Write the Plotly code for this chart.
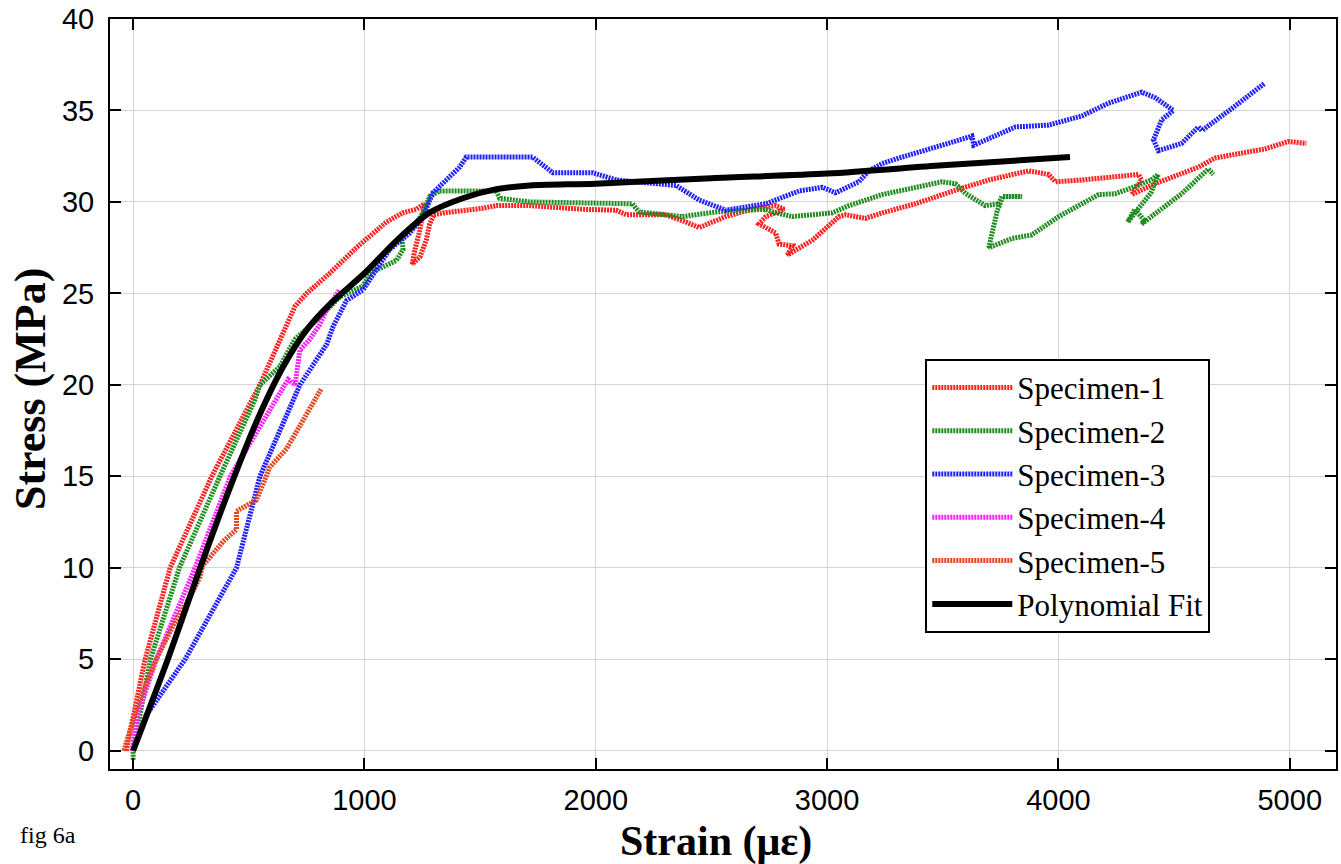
import plotly.graph_objects as go

# ---- data (strain in micro-strain, stress in MPa) ----
s1_x = [-30, 52, 160, 340, 548, 700, 750, 850, 965, 1095, 1165, 1224, 1260, 1240, 1215, 1207, 1240, 1267,
        1282, 1300, 1340, 1426, 1511, 1570, 1713, 1943, 2088, 2131, 2303, 2390, 2447, 2562, 2677, 2778,
        2814, 2735, 2706, 2778, 2792, 2850, 2828, 2936, 3051, 3080, 3166, 3238, 3382, 3569, 3699, 3871,
        3958, 3987, 4101, 4346, 4360, 4317, 4418, 4605, 4677, 4893, 4993, 5072]
s1_y = [0, 5, 10, 15, 20, 24.3, 25, 26.1, 27.5, 28.9, 29.4, 29.6, 29.9, 28.5, 27.2, 26.6, 27.0, 27.9,
        28.8, 29.3, 29.4, 29.5, 29.65, 29.8, 29.8, 29.6, 29.55, 29.3, 29.3, 28.9, 28.6, 29.2, 29.6, 29.8,
        29.6, 29.2, 28.8, 28.3, 27.7, 27.6, 27.1, 27.9, 29.2, 29.3, 29.1, 29.4, 29.9, 30.7, 31.2, 31.7,
        31.5, 31.1, 31.2, 31.5, 31.2, 30.4, 31.0, 31.9, 32.4, 32.9, 33.3, 33.2]

s2_x = [0, 0, 75, 200, 375, 527, 548, 634, 700, 807, 893, 994, 1023, 1095, 1138, 1167, 1160, 1210, 1253,
        1282, 1325, 1570, 1584, 1713, 2158, 2188, 2375, 2519, 2735, 2764, 2850, 3022, 3095, 3238, 3497,
        3554, 3600, 3684, 3742, 3756, 3843, 3760, 3735, 3715, 3699, 3799, 3885, 4001, 4174, 4245, 4303,
        4400, 4432, 4400, 4340, 4300, 4330, 4370, 4360, 4420, 4533, 4648, 4670]
s2_y = [-0.5, 0, 5, 10, 15, 19.2, 20, 21, 22.5, 23.7, 24.8, 25.4, 26.1, 26.5, 26.8, 27.4, 28.1, 28.6, 29.4,
        30.3, 30.6, 30.6, 30.2, 30.0, 29.9, 29.45, 29.2, 29.45, 29.6, 29.45, 29.2, 29.4, 29.8, 30.4, 31.1,
        31.0, 30.45, 29.8, 29.9, 30.3, 30.3, 30.3, 29.5, 28.5, 27.5, 28.0, 28.2, 29.2, 30.4, 30.45, 30.7,
        31.2, 31.5, 30.5, 29.5, 28.9, 29.6, 29.0, 28.8, 29.4, 30.45, 31.8, 31.5]

s3_x = [0, 60, 225, 447, 548, 721, 836, 865, 922, 994, 1109, 1196, 1253, 1296, 1354, 1411, 1440, 1727,
        1814, 1986, 2088, 2347, 2447, 2562, 2735, 2879, 2980, 3037, 3137, 3181, 3238, 3310, 3497, 3626,
        3634, 3814, 3958, 4101, 4217, 4360, 4418, 4497, 4447, 4411, 4432, 4533, 4605, 4620, 4749, 4893]
s3_y = [0, 2, 5, 10, 15, 20, 22.2, 23.2, 24.6, 25.2, 27.4, 28.3, 29.2, 30.5, 31.2, 31.9, 32.45, 32.45,
        31.6, 31.6, 31.2, 30.9, 30.1, 29.55, 29.9, 30.6, 30.8, 30.5, 31.1, 31.7, 32.1, 32.4, 33.1, 33.6,
        33.1, 34.1, 34.2, 34.7, 35.4, 36.0, 35.7, 35.0, 34.5, 33.4, 32.8, 33.2, 34.1, 33.9, 35.1, 36.5]

s4_x = [-5, 20, 100, 268, 420, 577, 670, 700, 721, 764, 807, 836, 893]
s4_y = [0, 2, 5, 10, 15, 18.3, 20.3, 20.0, 21.9, 22.5, 23.3, 24.1, 25.2]

s5_x = [-40, 20, 100, 180, 250, 289, 300, 390, 447, 447, 533, 591, 663, 735, 814]
s5_y = [0, 2.5, 5, 7, 8.5, 9.5, 10.1, 11.45, 12.1, 13.1, 13.7, 15.5, 16.5, 18.1, 19.8]

fit_x = [0, 150, 290, 404, 534, 649, 750, 850, 1000, 1140, 1280, 1425, 1570, 1715, 2000, 2500, 3000, 3500, 4050]
fit_y = [0, 5, 10, 13.9, 18.0, 21.0, 23.0, 24.4, 26.1, 27.9, 29.4, 30.2, 30.7, 30.9, 31.0, 31.3, 31.55, 32.0, 32.45]

names = ["Specimen-1", "Specimen-2", "Specimen-3", "Specimen-4", "Specimen-5"]
colors = ["#ff1f1f", "#1e8c1e", "#1f1fff", "#ff1fff", "#e0471f"]
series = [(s1_x, s1_y), (s2_x, s2_y), (s3_x, s3_y), (s4_x, s4_y), (s5_x, s5_y)]

x_ticks = [0, 1000, 2000, 3000, 4000, 5000]
y_ticks = [0, 5, 10, 15, 20, 25, 30, 35, 40]

fig = go.Figure()
for i, ((xs, ys), nm, col) in enumerate(zip(series, names, colors)):
    fig.add_trace(go.Scatter(x=xs, y=ys, mode="lines", name=nm, legendgroup=nm,
                             line=dict(color=col, width=5, dash="2px,1px")))
fig.add_trace(go.Scatter(x=fit_x, y=fit_y, mode="lines", name="Polynomial Fit",
                         legendgroup="fit", line=dict(color="black", width=6, shape="spline",
                                                      smoothing=0.8)))

axis_common = dict(showline=True, linecolor="black", linewidth=2, mirror="ticks",
                   ticks="inside", ticklen=11, tickwidth=2, tickcolor="black",
                   showgrid=True, gridcolor="#d4d4d4", gridwidth=1, zeroline=False,
                   tickfont=dict(family="Liberation Sans, Arial", size=29, color="black"))

fig.update_xaxes(range=[-100, 5200], tickvals=x_ticks, ticklabelstandoff=4, **axis_common)
fig.update_yaxes(range=[-1, 40], tickvals=y_ticks, ticklabelstandoff=8, **axis_common)

fig.update_layout(
    width=1341, height=864,
    margin=dict(l=110, r=3, t=18, b=95),
    paper_bgcolor="white", plot_bgcolor="white",
    showlegend=True,
    legend=dict(x=0.665, y=0.547, xanchor="left", yanchor="top",
                bgcolor="white", bordercolor="black", borderwidth=2,
                font=dict(family="Liberation Serif, Times New Roman", size=31, color="black"),
                itemwidth=80, tracegroupgap=0),
    annotations=[
        dict(text="<b>Stress (MPa)</b>", xref="paper", yref="paper", x=-0.065, y=0.507,
             textangle=-90, showarrow=False, xanchor="center", yanchor="middle",
             font=dict(family="Liberation Serif, Times New Roman", size=44, color="black")),
        dict(text="<b>Strain (με)</b>", xref="paper", yref="paper", x=0.494, y=-0.063,
             showarrow=False, xanchor="center", yanchor="top",
             font=dict(family="Liberation Serif, Times New Roman", size=42, color="black")),
        dict(text="fig 6a", xref="paper", yref="paper", x=-0.075, y=-0.088,
             showarrow=False, xanchor="left", yanchor="middle",
             font=dict(family="Liberation Serif, Times New Roman", size=24, color="black")),
    ],
)

fig.write_html("out.html")
